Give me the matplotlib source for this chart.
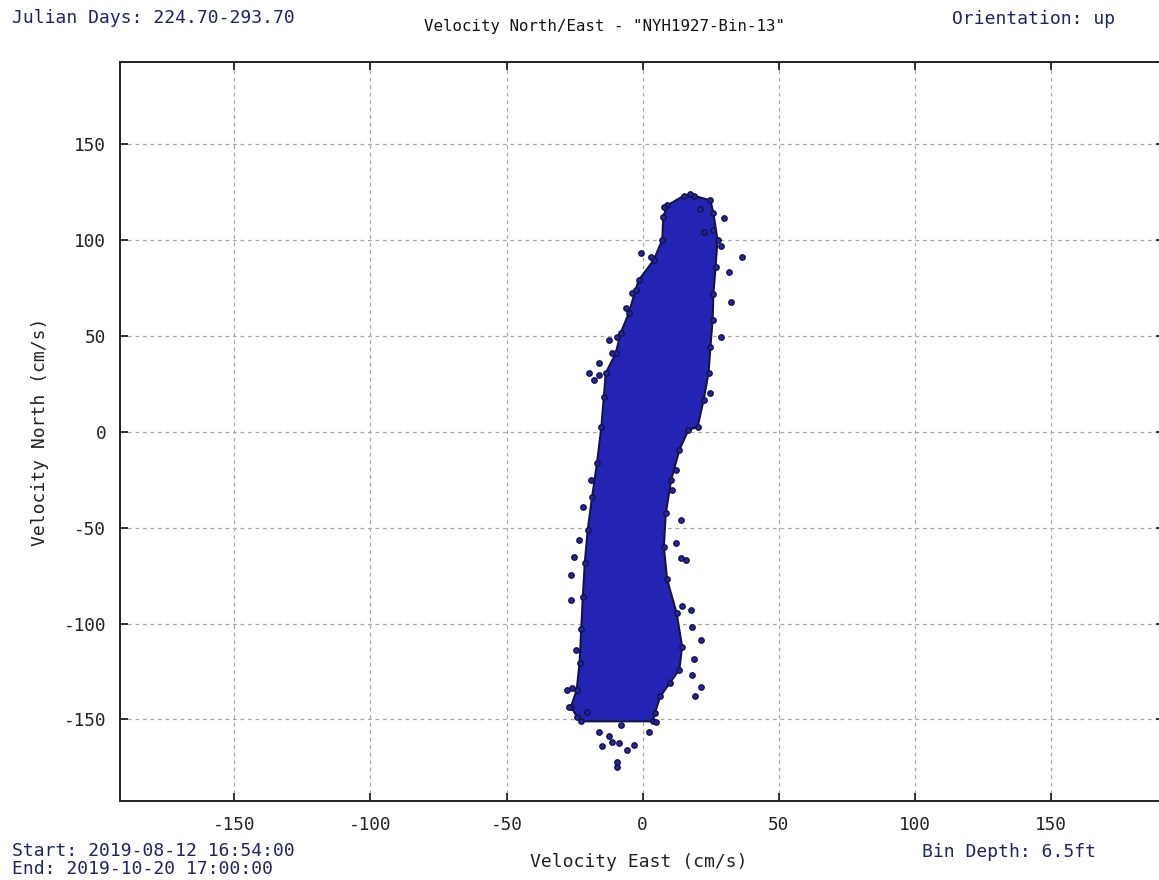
import matplotlib
matplotlib.use("Agg")
import matplotlib.pyplot as plt

# Outline of the dense velocity cloud (cm/s): left and right edges
left_north = [123, 118, 112, 100, 89.5, 79, 74, 62, 51.5, 41, 30.6, 18, 2.5,
              -16.3, -34, -51, -68.5, -86, -103, -120.7, -134.8, -143.5, -148.8, -151]
left_east = [15, 9, 7.5, 7.2, 4.0, -1.5, -2.6, -5.1, -8.1, -9.9, -13.6, -14.3, -15.2,
             -16.8, -18.6, -20.2, -21.3, -22.0, -22.6, -23.2, -24.3, -26.4, -24.0, -22.5]
right_north = [-151, -146.7, -138, -131, -124, -112, -94.6, -77, -60, -42.6, -25,
               -9.5, 0.9, 2.5, 16.5, 30.6, 44, 58, 72, 86, 100, 114, 120.7, 123]
right_east = [3.7, 4.5, 6.5, 10.0, 13.5, 14.5, 12.5, 9.0, 7.8, 8.5, 10.5,
              13.5, 16.8, 20.2, 22.4, 24.2, 24.9, 25.7, 26.0, 26.8, 27.5, 26.0, 24.9, 19]

# Individual samples lying outside the dense cloud
outlier_east = [17.4, 7.8, 29.8, 36.6, 31.6, 32.3, 28.6, 24.9, -0.7, 2.9, -3.8, -6.2,
                -9.3, -11.1, -16.0, -19.7, -17.9,
                -9.3, -9.3, -14.8, -11.1, -8.7, -5.6, -3.3, -16.1, -8.0, 2.3, 4.8,
                19.4, 21.3, 18.2, 18.8, 18.2, 14.5, 13.9, 12.1, 10.9,
                -22.1, -19.0, -26.4, -25.2, -27.0, -25.8, 21.0, 22.5, -12.5, -20.5,
                -27.9, -24.6, -26.4, -23.5, 21.3, 17.6, 15.8, 13.9, 12.1,
                25.7, 28.6, -12.5, -16.1]
outlier_north = [123.9, 117.3, 111.3, 90.9, 83.4, 67.8, 49.5, 20.0, 93.0, 90.9, 72.2, 64.3,
                 49.5, 40.9, 35.7, 30.8, 27.0,
                 -174.7, -172.0, -164.0, -161.6, -162.3, -166.0, -163.4, -156.4, -153.0, -156.4, -151.2,
                 -138.0, -133.0, -126.8, -118.7, -101.7, -91.0, -66.0, -58.2, -30.4,
                 -39.1, -25.2, -74.7, -65.2, -143.4, -133.8, 116.0, 104.0, -158.5, -146.0,
                 -134.7, -113.8, -87.8, -56.6, -108.7, -93.0, -66.8, -46.0, -20.0,
                 105.0, 97.0, 47.8, 29.6]

x_ticks = [-150, -100, -50, 0, 50, 100, 150]
y_ticks = [-150, -100, -50, 0, 50, 100, 150]

header_left = "Julian Days: 224.70-293.70"
title = 'Velocity North/East - "NYH1927-Bin-13"'
header_right = "Orientation: up"
start_text = "Start: 2019-08-12 16:54:00"
end_text = "End: 2019-10-20 17:00:00"
depth_text = "Bin Depth: 6.5ft"

W, H = 1159, 880
fig = plt.figure(figsize=(W / 100, H / 100), dpi=100)
fig.patch.set_facecolor("white")

mono = "DejaVu Sans Mono"
navy = "#1d2466"
cloud = "#2323b4"
rim = "#14143c"

ax_l, ax_r, ax_t, ax_b = 120, 1164, 62.5, 801
ax = fig.add_axes([ax_l / W, 1 - ax_b / H, (ax_r - ax_l) / W, (ax_b - ax_t) / H])
ax.set_xlim(-192, 191.5)
ax.set_ylim(-192.5, 192.5)

# Dense cloud of samples
poly_e = left_east + right_east
poly_n = left_north + right_north
ax.fill(poly_e, poly_n, facecolor=cloud, edgecolor=rim, linewidth=1.4, zorder=3)
ax.scatter(poly_e, poly_n, s=15, marker="o", facecolor=cloud, edgecolor=rim,
           linewidth=1.0, zorder=4)
ax.scatter(outlier_east, outlier_north, s=15, marker="o", facecolor=cloud,
           edgecolor=rim, linewidth=1.0, zorder=4)

ax.set_xticks(x_ticks)
ax.set_yticks(y_ticks)
ax.set_xticklabels([str(v) for v in x_ticks], family=mono, fontsize=12.8, color="#222222")
ax.set_yticklabels([str(v) for v in y_ticks], family=mono, fontsize=12.8, color="#222222")
ax.tick_params(axis="both", direction="in", length=6, width=1.3, color="#222222",
               top=True, right=True)
ax.tick_params(axis="x", pad=11)
ax.tick_params(axis="y", pad=10)
ax.grid(True, color="#a8a8a8", linestyle=(0, (3, 3)), linewidth=0.9, zorder=0)
ax.set_axisbelow(True)
for s in ax.spines.values():
    s.set_linewidth(1.4)
    s.set_color("#222222")


def put(x, y, s, **kw):
    fig.text(x / W, 1 - y / H, s, family=mono, **kw)


put(12, 18, header_left, fontsize=13, color=navy, ha="left", va="center")
put(605, 26, title, fontsize=11.3, color="#111111", ha="center", va="center")
put(952, 19, header_right, fontsize=13, color=navy, ha="left", va="center")
put(639, 862, "Velocity East (cm/s)", fontsize=13, color="#222222", ha="center", va="center")
put(40, 432, "Velocity North (cm/s)", fontsize=13, color="#222222", ha="center",
    va="center", rotation=90)
put(12, 851, start_text, fontsize=13, color=navy, ha="left", va="center")
put(12, 869, end_text, fontsize=13, color=navy, ha="left", va="center")
put(922, 852, depth_text, fontsize=13, color=navy, ha="left", va="center")

fig.savefig("out.png", dpi=100, facecolor="white")
